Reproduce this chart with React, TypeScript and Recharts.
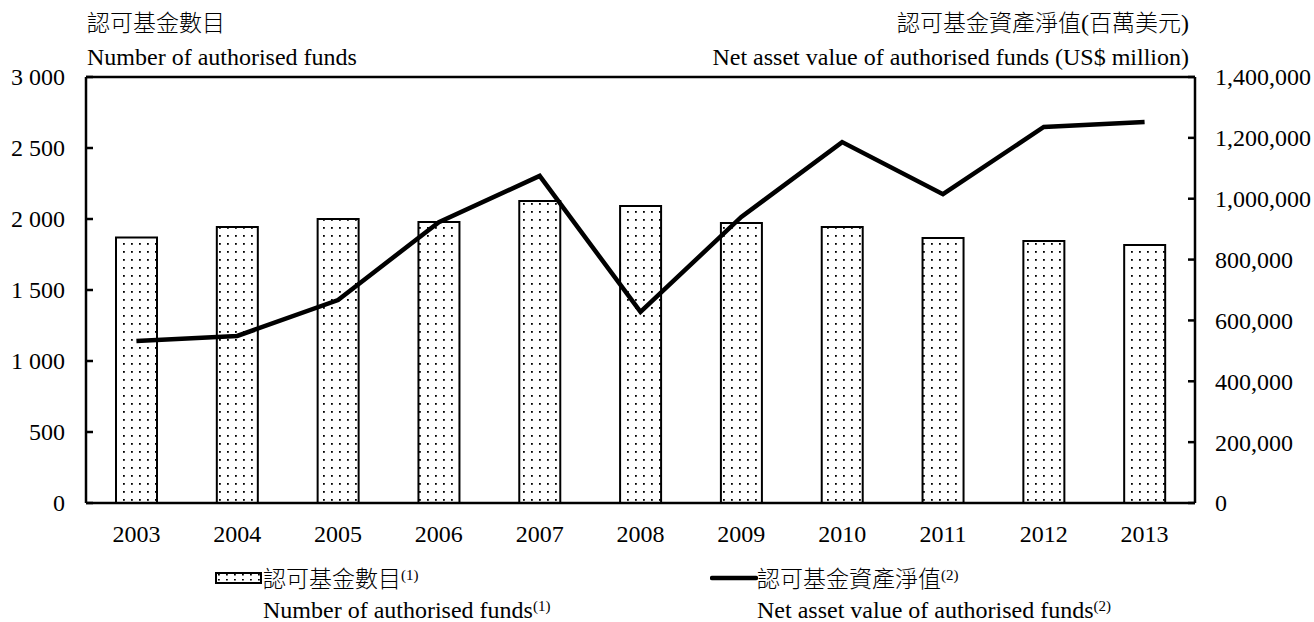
import React from "react";
import {
  ComposedChart,
  Bar,
  Line,
  XAxis,
  YAxis,
  ReferenceLine,
} from "recharts";

// values
const years = ["2003", "2004", "2005", "2006", "2007", "2008", "2009", "2010", "2011", "2012", "2013"];
const fundCounts = [1870, 1944, 2000, 1979, 2127, 2092, 1972, 1944, 1866, 1845, 1817];
const netAssetValues = [532000, 549000, 667000, 923000, 1075000, 628000, 940000, 1186000, 1015000, 1236000, 1252000];

const leftTicks = [0, 500, 1000, 1500, 2000, 2500, 3000];
const rightTicks = [0, 200000, 400000, 600000, 800000, 1000000, 1200000, 1400000];

const data = years.map((year, i) => ({
  year,
  funds: fundCounts[i],
  nav: netAssetValues[i],
}));

const FONT = '"Liberation Serif", "Times New Roman", "Noto Sans CJK TC", serif';
const CJK = '"Noto Sans CJK TC", "Liberation Serif", serif';
const FS = 24;
const AXIS_W = 2.5;

const fmtLeft = (v: number) => String(v).replace(/\B(?=(\d{3})+(?!\d))/g, " ");
const fmtRight = (v: number) => v.toLocaleString("en-US");

const LeftTick = (props: any) => {
  const { x, y, payload } = props;
  const ax = x + 21;
  return (
    <g>
      <line x1={ax} x2={ax + 7} y1={y} y2={y} stroke="#000" strokeWidth={AXIS_W} />
      <text x={x} y={y} dy="0.35em" textAnchor="end" fontFamily={FONT} fontSize={FS} fill="#000">
        {fmtLeft(payload.value)}
      </text>
    </g>
  );
};

const RightTick = (props: any) => {
  const { x, y, payload } = props;
  const ax = x - 20;
  return (
    <g>
      <line x1={ax} x2={ax - 7} y1={y} y2={y} stroke="#000" strokeWidth={AXIS_W} />
      <text x={x} y={y} dy="0.35em" textAnchor="start" fontFamily={FONT} fontSize={FS} fill="#000">
        {fmtRight(payload.value)}
      </text>
    </g>
  );
};

const textStyle: React.CSSProperties = {
  position: "absolute",
  fontFamily: FONT,
  fontSize: FS,
  color: "#000",
  whiteSpace: "nowrap",
  lineHeight: 1,
};

const cjkStyle: React.CSSProperties = { fontFamily: CJK, fontSize: 23, fontWeight: 300 };
const sup: React.CSSProperties = { fontSize: 15, verticalAlign: "7px", fontFamily: FONT, fontWeight: 400 };
const paren: React.CSSProperties = { fontFamily: FONT, fontSize: FS, fontWeight: 400 };

export default function App() {
  return (
    <div style={{ position: "absolute", left: 0, top: 0, width: 1314, height: 622, background: "#fff" }}>
      <div style={{ ...textStyle, ...cjkStyle, left: 87, top: 10 }}>認可基金數目</div>
      <div style={{ ...textStyle, left: 87, top: 45 }}>Number of authorised funds</div>
      <div style={{ ...textStyle, ...cjkStyle, right: 1314 - 1189, top: 10 }}>
        認可基金資產淨值<span style={paren}>(</span>百萬美元<span style={paren}>)</span>
      </div>
      <div style={{ ...textStyle, right: 1314 - 1189, top: 45 }}>
        Net asset value of authorised funds (US$ million)
      </div>

      <ComposedChart
        width={1314}
        height={622}
        data={data}
        margin={{ top: 77, right: 0, bottom: 0, left: 0 }}
      >
        <defs>
          <pattern id="dots" width="8" height="8" patternUnits="userSpaceOnUse">
            <rect width="8" height="8" fill="#fff" />
            <rect x="3" y="3" width="1.8" height="1.8" fill="#000" />
          </pattern>
        </defs>
        <XAxis
          dataKey="year"
          height={119}
          tickLine={false}
          tickSize={0}
          tickMargin={22}
          axisLine={{ stroke: "#000", strokeWidth: AXIS_W }}
          tick={{ fill: "#000", fontFamily: FONT, fontSize: FS }}
          interval={0}
        />
        <YAxis
          yAxisId="left"
          orientation="left"
          width={86}
          domain={[0, 3000]}
          ticks={leftTicks}
          tickLine={false}
          tickSize={0}
          tickMargin={21}
          axisLine={{ stroke: "#000", strokeWidth: AXIS_W }}
          tick={<LeftTick />}
          interval={0}
        />
        <YAxis
          yAxisId="right"
          orientation="right"
          width={119}
          domain={[0, 1400000]}
          ticks={rightTicks}
          tickLine={false}
          tickSize={0}
          tickMargin={20}
          axisLine={{ stroke: "#000", strokeWidth: AXIS_W }}
          tick={<RightTick />}
          interval={0}
        />
        <ReferenceLine yAxisId="left" y={3000} stroke="#000" strokeWidth={AXIS_W} />
        <Bar
          yAxisId="left"
          dataKey="funds"
          barSize={41}
          fill="url(#dots)"
          stroke="#000"
          strokeWidth={2}
          isAnimationActive={false}
        />
        <Line
          yAxisId="right"
          dataKey="nav"
          type="linear"
          stroke="#000"
          strokeWidth={4.5}
          dot={false}
          activeDot={false}
          isAnimationActive={false}
        />
      </ComposedChart>

      {/* legend */}
      <svg style={{ position: "absolute", left: 215, top: 572 }} width={47} height={12}>
        <defs>
          <pattern id="dotsLegend" width="8" height="5" patternUnits="userSpaceOnUse">
            <rect width="8" height="5" fill="#fff" />
            <rect x="3" y="2" width="1.8" height="1.5" fill="#000" />
          </pattern>
        </defs>
        <rect x={1} y={1} width={45} height={10} fill="url(#dotsLegend)" stroke="#000" strokeWidth={2} />
      </svg>
      <div style={{ ...textStyle, ...cjkStyle, left: 263, top: 566 }}>
        認可基金數目<span style={sup}>(1)</span>
      </div>
      <div style={{ ...textStyle, left: 263, top: 598 }}>
        Number of authorised funds<span style={sup}>(1)</span>
      </div>

      <svg style={{ position: "absolute", left: 710, top: 574 }} width={48} height={8}>
        <line x1={2} x2={46} y1={4} y2={4} stroke="#000" strokeWidth={4.5} strokeLinecap="round" />
      </svg>
      <div style={{ ...textStyle, ...cjkStyle, left: 757, top: 566 }}>
        認可基金資產淨值<span style={sup}>(2)</span>
      </div>
      <div style={{ ...textStyle, left: 757, top: 598 }}>
        Net asset value of authorised funds<span style={sup}>(2)</span>
      </div>
    </div>
  );
}
